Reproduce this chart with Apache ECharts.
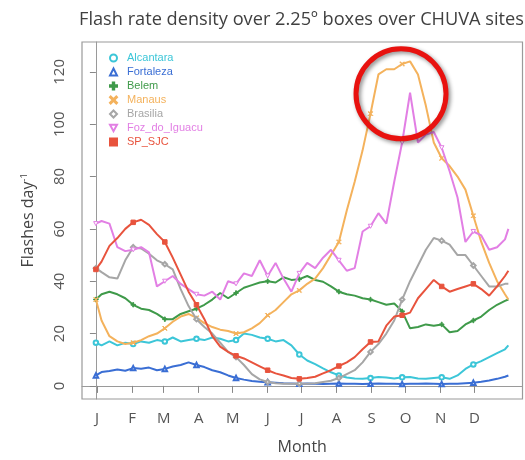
<!DOCTYPE html>
<html>
<head>
<meta charset="utf-8">
<script src="https://cdn.jsdelivr.net/npm/echarts@6/dist/echarts.min.js"></script>
<style>html,body{margin:0;padding:0;background:#fff;}#c{width:525px;height:460px;}</style>
</head>
<body>
<div id="c"></div>
<script>
// Day of year for each sample
const days = [0,5,12,19,26,33,40,47,54,61,68,75,82,89,96,103,110,117,124,131,138,145,152,159,166,173,180,187,194,201,208,215,222,229,236,243,250,257,264,271,278,285,292,299,306,313,320,327,334,341,348,355,362,365];
// Month tick positions and labels
const monthDays = [1,32,60,91,121,152,182,213,244,274,305,335];
const monthLabels = ['J','F','M','A','M','J','J','A','S','O','N','D'];
const yTicks = [0,20,40,60,80,100,120];

const alcantara = [16.5,15.5,17,15.5,16.5,16,17,16.5,17.5,17,18.5,17,17.5,18,17.5,18.5,18,17,17.5,20,19.5,18.5,18,17,17.5,15.5,12,9.7,8.3,6.7,5.2,4,3.2,2.8,2.7,3,3.4,3.2,2.8,3.3,3.4,2.8,2.7,3,3.3,2.7,4,6.5,8.2,9.5,11,12.5,14,15.5];
const fortaleza = [4,5.3,5.7,6.3,5.8,6.8,6.6,7,6,6.5,7.4,8,9,8,7.2,6,5.2,4,3,2.4,1.9,1.6,1.4,1.2,1,0.9,0.8,0.9,0.8,0.7,0.8,0.9,0.8,0.8,0.7,0.8,0.9,0.8,0.8,0.7,0.8,0.8,0.9,0.8,0.7,0.8,0.8,1,1.2,1.6,2.1,2.7,3.5,4];
const belem = [33,35,36,35,33.5,31,29.5,29,27.5,25.5,25.5,27.5,28.5,29.5,31,33,35.5,33.5,35.5,37.5,38.5,39.5,40,39.5,41.5,40.5,40.8,42,40.5,39.8,38,36,35,34.5,33.5,33,32,31,31.5,28.5,22,22.5,23.5,23,23.5,20.5,21,23.5,25,26.5,29,31,32.5,33];
const manaus = [33,25,19,17,16,16.5,17.5,19,20,22,24.5,26.5,27.5,26,24,22.5,21.5,21,20,20.5,22,24,27,29,32,35,36.5,39,41,45,50,55,67,78,90,104,119,121,121,123,124,119,107,93,87,84,80,75,65,55,47,40,35,33];
const brasilia = [45,43.5,41.5,41,48,53,52.5,50.5,48,46.5,44.5,37,30.5,25.5,22.5,20,16.5,13,11,8,4.5,2.5,1.5,1,0.8,0.8,0.8,0.8,1,1.5,2,3,4.5,6,9,13,16,20,25,33,40,46,52,56.5,55.5,54,50,50,46,42,38,38,39,39];
const fozDoIguacu = [62,63,62,53,51.5,52,53,51,38,40,42,39,37,35,34.5,36,33,40,39,43,42,48,42,47,41,36,43,47,45,49,52,48,44,45,59,61,66,62,78,93,112,93,96,97,91,82,72,55,59,57.5,52,53,56,60];
const spSjc = [44.5,47.5,53.5,56.5,60,62.5,63.5,61.5,58,55,49,42.5,36,31,25.5,19,15,13,11.5,10.5,9,7.5,6,4.8,4,3,2.7,3,3.5,4.8,6,7.6,9,11,14,16.8,17,23,26.5,27,28,33.5,37,40.5,38,36,37,38,39,37,34.5,38,42,44];

const names = ['Alcantara','Fortaleza','Belem','Manaus','Brasilia','Foz_do_Iguacu','SP_SJC'];
const values = [alcantara, fortaleza, belem, manaus, brasilia, fozDoIguacu, spSjc];
const colors = ['#3cc6d8','#3a6ed4','#3f9a4a','#f4b25c','#a6a6a6','#e27fe4','#e8533d'];
const PLUS = 'path://M4,0H6V4H10V6H6V10H4V6H0V4H4Z';
const CROSS = 'path://M1,0L5,4L9,0L10,1L6,5L10,9L9,10L5,6L1,10L0,9L4,5L0,1Z';
const DOWNTRI = 'path://M0,0L10,0L5,9Z';
const SQUARE = 'path://M0,0H10V10H0Z';
const symbols = ['emptyCircle','emptyTriangle',PLUS,CROSS,'emptyDiamond',DOWNTRI,SQUARE];

// indices nearest to month starts get a marker
const markIdx = new Set(monthDays.map(m => {
  let best = 0;
  days.forEach((d, i) => { if (Math.abs(d - m) < Math.abs(days[best] - m)) best = i; });
  return best;
}));

const FONT = 'Open Sans';
const chart = echarts.init(document.getElementById('c'), null, {renderer: 'canvas'});

const series = names.map((n, k) => {
  const s = {
    name: n,
    type: 'line',
    data: days.map((d, i) => [d, values[k][i]]),
    symbol: symbols[k],
    symbolKeepAspect: true,
    showAllSymbol: true,
    symbolSize: (v, p) => markIdx.has(p.dataIndex) ? 4.5 : 0,
    lineStyle: {color: colors[k], width: 2},
    itemStyle: {color: colors[k], borderColor: colors[k], borderWidth: 1},
    emphasis: {disabled: true},
    animation: false,
    z: 2 + k
  };
  if (k === 5) s.itemStyle = {color: '#fff', borderColor: colors[k], borderWidth: 1};
  return s;
});

chart.setOption({
  animation: false,
  backgroundColor: '#fff',
  title: {
    text: 'Flash rate density over 2.25º boxes over CHUVA sites',
    left: 74, top: 6,
    textStyle: {fontFamily: FONT, fontSize: 18.2, fontWeight: 'normal', color: '#404040'}
  },
  grid: {left: 82, right: 2.5, top: 42, bottom: 60, show: true, borderColor: '#9a9a9a', borderWidth: 1.2},
  legend: {
    orient: 'vertical', left: 104, top: 47,
    itemWidth: 7, itemHeight: 7, itemGap: 2,
    symbolKeepAspect: true,
    textStyle: {fontFamily: 'Liberation Sans', fontSize: 11, lineHeight: 12, padding: [0, 0, 0, 5]},
    data: names.map((n, k) => ({name: n, icon: symbols[k], textStyle: {color: colors[k]}})),
    selectedMode: false
  },
  xAxis: {
    type: 'value', min: -12.3, max: 377.5,
    name: 'Month', nameLocation: 'middle', nameGap: 40,
    nameTextStyle: {fontFamily: FONT, fontSize: 16, color: '#444'},
    axisLine: {show: true, lineStyle: {color: '#9a9a9a'}},
    axisTick: {show: true, length: 7, lineStyle: {color: '#888'}, customValues: monthDays},
    axisLabel: {
      customValues: monthDays, margin: 12,
      formatter: v => monthLabels[monthDays.indexOf(v)] || '',
      fontFamily: FONT, fontSize: 15, color: '#555'
    },
    splitLine: {show: false}
  },
  yAxis: {
    type: 'value', min: -5, max: 131.4,
    name: 'Flashes day{s|-1}', nameLocation: 'middle', nameGap: 45, nameRotate: 90,
    nameTextStyle: {fontFamily: FONT, fontSize: 16, color: '#444',
      rich: {s: {fontFamily: FONT, fontSize: 9, color: '#444', verticalAlign: 'top', padding: [0,0,8,0]}}},
    axisLine: {show: true, lineStyle: {color: '#9a9a9a'}},
    axisTick: {show: true, length: 6, lineStyle: {color: '#888'}, customValues: yTicks},
    axisLabel: {customValues: yTicks, rotate: 90, margin: 15, fontFamily: FONT, fontSize: 15, color: '#555'},
    splitLine: {show: false}
  },
  series: series
});

// Red highlight ring around the Manaus peak (annotation), placed via axis scales
const ctr = chart.convertToPixel({gridIndex: 0}, [270, 111.6]);
chart.setOption({
  graphic: [{
    type: 'circle', z: 100,
    shape: {cx: ctr[0], cy: ctr[1], r: 45},
    style: {fill: 'none', stroke: '#e8120f', lineWidth: 5,
      shadowBlur: 4, shadowColor: 'rgba(0,0,0,0.45)', shadowOffsetX: 2, shadowOffsetY: 2}
  }]
});
</script>
</body>
</html>
